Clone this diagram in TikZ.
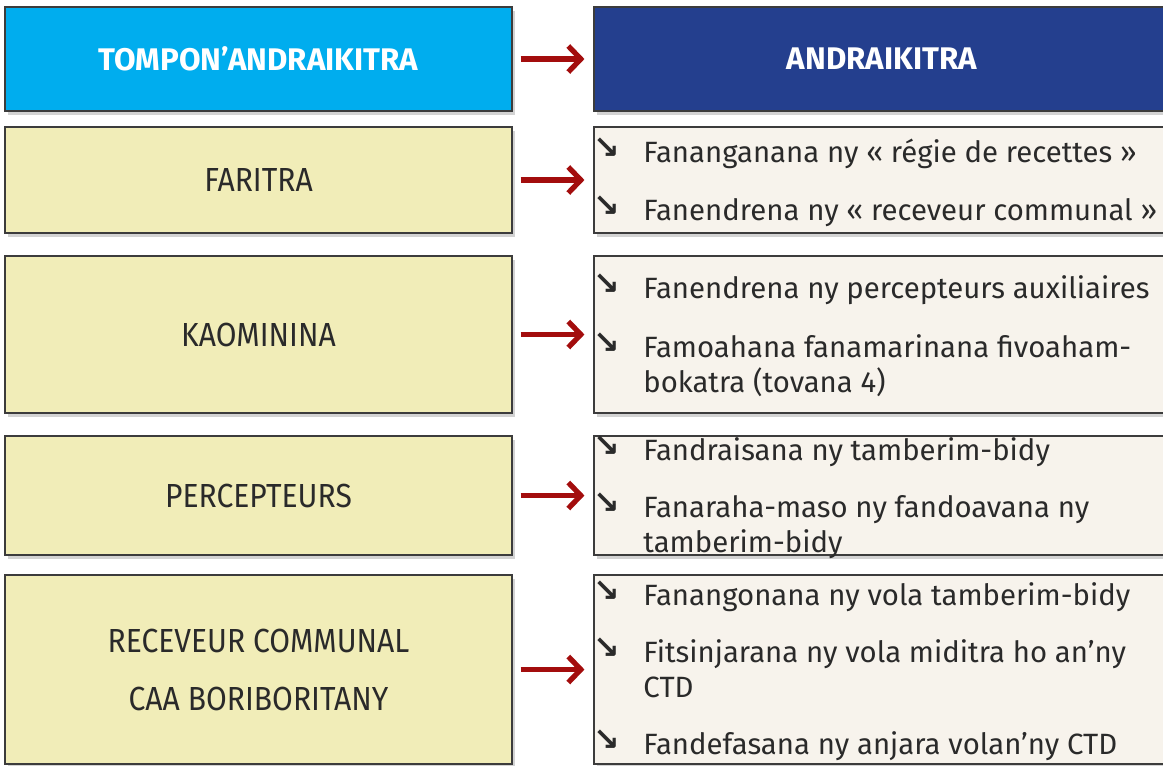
\documentclass[tikz,border=0pt]{standalone}
\usepackage{fontspec}
\setmainfont{Fira Sans}
\newfontfamily\narrowfont[FakeStretch=0.9]{Fira Sans}
\newfontfamily\arrowfont{DejaVu Sans}
\usetikzlibrary{
  positioning,
  arrows.meta,
  shadows
}
\definecolor{headcyan}{HTML}{00ADEE}
\definecolor{headblue}{HTML}{243F8E}
\definecolor{ownerfill}{HTML}{F1EDB8}
\definecolor{dutyfill}{HTML}{F7F3EC}
\definecolor{edge}{HTML}{3C3C3C}
\definecolor{ink}{HTML}{2A2A2A}
\definecolor{linkred}{HTML}{A30D0D}

\begin{document}
\begin{tikzpicture}[
  x=0.02cm, y=-0.02cm,
  box/.style={draw=edge, line width=0.7pt, inner sep=0pt,
              drop shadow={shadow xshift=1.8pt, shadow yshift=-2.2pt, opacity=0.35}},
  owner/.style={box, fill=ownerfill, minimum width=10.14cm, align=center, text=ink,
                font=\narrowfont\fontsize{19}{33}\selectfont},
  duties/.style={box, fill=dutyfill, minimum width=11.52cm},
  head/.style={box, minimum height=2.08cm, text=white,
               font=\bfseries\fontsize{17.8}{20}\selectfont},
  duty/.style={anchor=base west, inner sep=0pt, align=left, text=ink,
               font=\fontsize{16.7}{19.9}\selectfont},
  link/.style={-{Straight Barb[length=2.5mm, width=5.2mm]}, line width=3pt, linkred,
               shorten <=0.16cm, shorten >=0.18cm}
]
  \useasboundingbox (0,0) rectangle (1163,765);

  % Headers
  \node[head, fill=headcyan, minimum width=10.14cm] (lhead) at (258.5,59) {TOMPON’ANDRAIKITRA};
  \node[head, fill=headblue, minimum width=11.52cm] (rhead) at (882,59) {ANDRAIKITRA};

  % Owners
  \node[owner, minimum height=2.12cm] (lfar) at (258.5,180) {FARITRA};
  \node[owner, minimum height=3.14cm] (lkao) at (258.5,334.5) {KAOMININA};
  \node[owner, minimum height=2.38cm] (lper) at (258.5,495.5) {PERCEPTEURS};
  \node[owner, minimum height=3.78cm] (lrec) at (258.5,669.5) {RECEVEUR COMMUNAL\\CAA BORIBORITANY};

  % Duty boxes
  \node[duties, minimum height=2.12cm] (rfar) at (882,180) {};
  \node[duties, minimum height=3.14cm] (rkao) at (882,334.5) {};
  \node[duties, minimum height=2.38cm] (rper) at (882,495.5) {};
  \node[duties, minimum height=3.78cm] (rrec) at (882,669.5) {};

  % Duty items (base = last line)
  \node[duty] (far1) at (643,162) {\llap{\raisebox{2pt}{\arrowfont\bfseries\fontsize{18}{18}\selectfont ↘}\hspace{0.46cm}}Fananganana ny « régie de recettes »};
  \node[duty] (far2) at (643,220) {\llap{\raisebox{2pt}{\arrowfont\bfseries\fontsize{18}{18}\selectfont ↘}\hspace{0.46cm}}Fanendrena ny « receveur communal »};
  \node[duty] (kao1) at (643,298) {\llap{\raisebox{2pt}{\arrowfont\bfseries\fontsize{18}{18}\selectfont ↘}\hspace{0.46cm}}Fanendrena ny percepteurs auxiliaires};
  \node[duty] (kao2) at (643,392) {\llap{\raisebox{2pt}{\arrowfont\bfseries\fontsize{18}{18}\selectfont ↘}\hspace{0.46cm}}Famoahana fanamarinana fivoaham-\\bokatra (tovana 4)};
  \node[duty] (per1) at (643,460) {\llap{\raisebox{2pt}{\arrowfont\bfseries\fontsize{18}{18}\selectfont ↘}\hspace{0.46cm}}Fandraisana ny tamberim-bidy};
  \node[duty] (per2) at (643,552) {\llap{\raisebox{2pt}{\arrowfont\bfseries\fontsize{18}{18}\selectfont ↘}\hspace{0.46cm}}Fanaraha-maso ny fandoavana ny\\tamberim-bidy};
  \node[duty] (rec1) at (643,605) {\llap{\raisebox{2pt}{\arrowfont\bfseries\fontsize{18}{18}\selectfont ↘}\hspace{0.46cm}}Fanangonana ny vola tamberim-bidy};
  \node[duty] (rec2) at (643,697) {\llap{\raisebox{2pt}{\arrowfont\bfseries\fontsize{18}{18}\selectfont ↘}\hspace{0.46cm}}Fitsinjarana ny vola miditra ho an’ny\\CTD};
  \node[duty] (rec3) at (643,754) {\llap{\raisebox{2pt}{\arrowfont\bfseries\fontsize{18}{18}\selectfont ↘}\hspace{0.46cm}}Fandefasana ny anjara volan’ny CTD};

  % Links
  \draw[link] (lhead) -- (rhead);
  \draw[link] (lfar) -- (rfar);
  \draw[link] (lkao) -- (rkao);
  \draw[link] (lper) -- (rper);
  \draw[link] (lrec) -- (rrec);
\end{tikzpicture}
\end{document}
